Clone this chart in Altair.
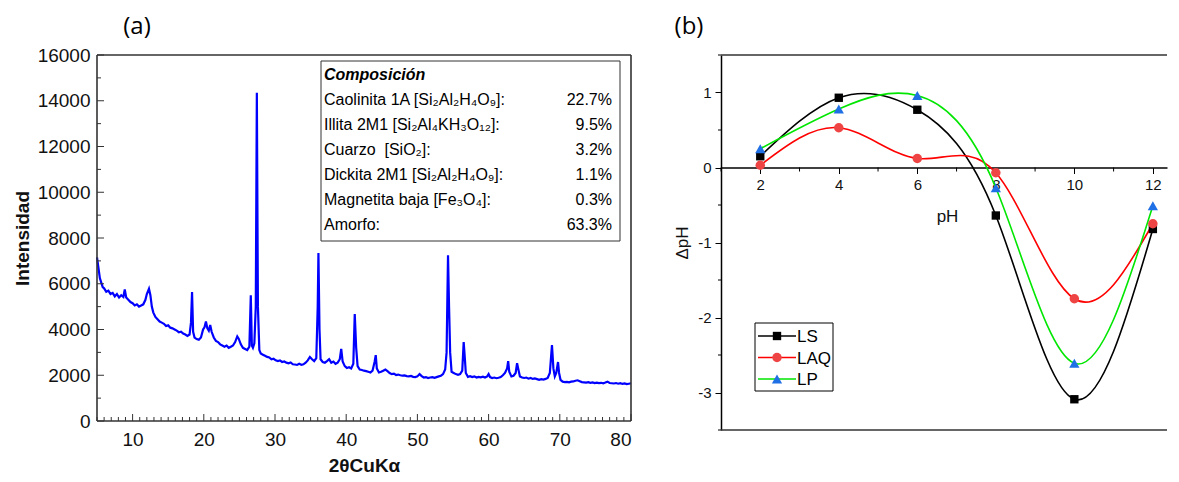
import altair as alt
import pandas as pd

# ---------------- panel (a): XRD pattern ----------------
two_theta = [
    5.0, 5.2, 5.4, 5.6, 5.8, 6.0, 6.3, 6.6, 6.9, 7.2, 7.5, 7.8, 8.1, 8.4, 8.7, 8.9, 9.1, 9.4, 9.7, 10.0,
    10.3, 10.6, 10.9, 11.2, 11.5, 11.8, 12.0, 12.3, 12.5, 12.7, 12.9, 13.2, 13.5, 13.8, 14.1, 14.4, 14.7, 15.0,
    15.3, 15.6, 15.9, 16.2, 16.5, 16.8, 17.1, 17.4, 17.7, 18.0, 18.2, 18.35, 18.5, 18.7, 19.0, 19.3, 19.6,
    19.9, 20.1, 20.3, 20.5, 20.7, 20.9, 21.1, 21.4, 21.7, 22.0, 22.3, 22.6, 22.9, 23.2, 23.5, 23.8, 24.1,
    24.4, 24.7, 24.9, 25.2, 25.5, 25.8, 26.1, 26.4, 26.6, 26.75, 26.9, 27.1, 27.3, 27.45, 27.6, 27.8, 28.0,
    28.3, 28.6, 28.9, 29.2, 29.5, 29.8, 30.1, 30.4, 30.7, 31.0, 31.3, 31.6, 31.9, 32.2, 32.5, 32.8, 33.1,
    33.4, 33.7, 34.0, 34.3, 34.6, 34.9, 35.2, 35.5, 35.8, 36.0, 36.1, 36.25, 36.4, 36.7, 37.0, 37.3, 37.6,
    37.9, 38.2, 38.5, 38.8, 39.1, 39.3, 39.5, 39.8, 40.1, 40.4, 40.7, 41.0, 41.2, 41.4, 41.6, 41.9, 42.2,
    42.5, 42.8, 43.1, 43.4, 43.7, 44.0, 44.15, 44.3, 44.6, 44.9, 45.2, 45.5, 45.8, 46.1, 46.4, 46.7, 47.0,
    47.3, 47.6, 47.9, 48.2, 48.5, 48.8, 49.1, 49.4, 49.7, 50.0, 50.3, 50.6, 50.9, 51.2, 51.5, 51.8, 52.1,
    52.4, 52.7, 53.0, 53.3, 53.6, 53.9, 54.1, 54.3, 54.45, 54.6, 54.8, 55.1, 55.4, 55.7, 56.0, 56.3, 56.5,
    56.65, 56.8, 57.1, 57.4, 57.7, 58.0, 58.3, 58.6, 58.9, 59.2, 59.5, 59.8, 60.0, 60.2, 60.5, 60.8, 61.1,
    61.4, 61.7, 62.0, 62.3, 62.6, 62.75, 62.9, 63.2, 63.5, 63.8, 64.0, 64.15, 64.4, 64.7, 65.0, 65.3, 65.6,
    65.9, 66.2, 66.5, 66.8, 67.1, 67.4, 67.7, 68.0, 68.3, 68.6, 68.9, 69.1, 69.3, 69.5, 69.75, 69.9, 70.1,
    70.4, 70.7, 71.0, 71.3, 71.6, 71.9, 72.2, 72.5, 72.8, 73.1, 73.4, 73.7, 74.0, 74.3, 74.6, 74.9, 75.2,
    75.5, 75.8, 76.1, 76.4, 76.7, 77.0, 77.3, 77.6, 77.9, 78.2, 78.5, 78.8, 79.1, 79.4, 79.7, 80.0,
]
intensity = [
    7150, 6700, 6250, 6050, 5850, 5800, 5650, 5700, 5550, 5600, 5450, 5550, 5400, 5500, 5420, 5750, 5400, 5300, 5200, 5150,
    5050, 5100, 5000, 5050, 5100, 5300, 5550, 5780, 5500, 5000, 4750, 4550, 4450, 4350, 4300, 4250, 4150, 4180,
    4080, 4050, 4000, 3950, 3880, 3900, 3820, 3780, 3720, 3780, 4300, 5640, 3900, 3650, 3580, 3550, 3650,
    4000, 4100, 4350, 4050, 3950, 4200, 3900, 3650, 3500, 3450, 3350, 3300, 3250, 3300, 3200, 3250, 3300,
    3450, 3700, 3600, 3350, 3200, 3150, 3100, 3250, 5500, 3300, 3200, 3400, 5000, 14350, 5000, 3100, 2950,
    2900, 2850, 2800, 2780, 2700, 2720, 2650, 2620, 2650, 2580, 2600, 2550, 2520, 2560, 2480, 2470, 2450,
    2500, 2460, 2480, 2550, 2650, 2800, 2700, 2620, 2750, 5000, 7340, 4000, 2700, 2580, 2550, 2620, 2700,
    2550, 2600, 2500, 2550, 2700, 3150, 2600, 2400, 2320, 2350, 2300, 2500, 4680, 3200, 2400, 2250, 2230,
    2200, 2180, 2150, 2120, 2200, 2600, 2880, 2300, 2120, 2150, 2200, 2250, 2180, 2100, 2050, 2070, 2010,
    2030, 2000, 1980, 1990, 1960, 1950, 1970, 1930, 1920, 1950, 2050, 1960, 1900, 1920, 1880, 1900, 1920,
    1890, 1920, 1950, 1980, 2050, 2250, 3000, 7250, 4940, 3000, 2150, 2100, 2050, 2020, 2050, 2200, 3450,
    2800, 2100, 1930, 1960, 1920, 1950, 1900, 1930, 1910, 1940, 1900, 1950, 2050, 1920, 1880, 1900, 1870,
    1890, 1920, 2000, 2100, 2300, 2620, 2150, 1950, 1980, 2100, 2530, 2300, 1950, 1900, 1880, 1900, 1850,
    1880, 1840, 1860, 1830, 1800, 1830, 1810, 1840, 1880, 2100, 3320, 2300, 1950, 2100, 2580, 2100, 1800,
    1720, 1700, 1710, 1690, 1720, 1730, 1760, 1780, 1740, 1700, 1690, 1680, 1700, 1670, 1690, 1660, 1680,
    1660, 1670, 1650, 1680, 1720, 1660, 1650, 1640, 1660, 1630, 1650, 1620, 1640, 1610, 1630, 1650,
]

comp_title = "Composición"
comp_labels = [
    "Caolinita 1A [Si₂Al₂H₄O₉]:",
    "Illita 2M1 [Si₂Al₄KH₃O₁₂]:",
    "Cuarzo\u00a0 [SiO₂]:",
    "Dickita 2M1 [Si₂Al₂H₄O₉]:",
    "Magnetita baja [Fe₃O₄]:",
    "Amorfo:",
]
comp_values = ["22.7%", "9.5%", "3.2%", "1.1%", "0.3%", "63.3%"]

x_labels_a = [10, 20, 30, 40, 50, 60, 70, 80]
y_labels_a = [0, 2000, 4000, 6000, 8000, 10000, 12000, 14000, 16000]
x_minor_a = [v for v in range(5, 81) if v % 10 != 0]
y_minor_a = [v for v in range(1000, 16000, 2000)]

# ---------------- panel (b): delta pH ----------------
ph = [2, 4, 6, 8, 10, 12]
ls_vals = [0.15, 0.93, 0.77, -0.64, -3.09, -0.82]
laq_vals = [0.03, 0.53, 0.12, -0.07, -1.75, -0.75]
lp_vals = [0.25, 0.78, 0.96, -0.27, -2.61, -0.51]
series_names = ["LS", "LAQ", "LP"]
series_values = [ls_vals, laq_vals, lp_vals]
line_colors = ["#000000", "#FF0000", "#00E600"]
marker_colors = ["#000000", "#EE4444", "#1F6FE5"]
marker_shapes = ["square", "circle", "triangle-up"]
marker_sizes = [70, 90, 105]

x_labels_b = [2, 4, 6, 8, 10, 12]
x_minor_b = [1, 3, 5, 7, 9, 11]
y_labels_b = [-3, -2, -1, 0, 1]
y_minor_b = [-3.5, -2.5, -1.5, -0.5, 0.5, 1.5]

panel_labels = ["(a)", "(b)"]

FONT = "Liberation Sans"
FRAME = "#333333"
one = pd.DataFrame({"k": [0]})

# ================= panel (a) =================
W_A, H_A = 534, 366
xa = alt.X("tt:Q", scale=alt.Scale(domain=[5, 80], nice=False, zero=False),
           axis=alt.Axis(title="2θCuKα", values=x_labels_a, format="d", tickSize=0, domain=False, grid=False,
                         labelFontSize=19, labelPadding=9, labelColor="#111", labelFont=FONT,
                         titleFont=FONT, titleFontSize=19, titleFontWeight="bold", titleColor="#111",
                         titlePadding=7))
ya = alt.Y("I:Q", scale=alt.Scale(domain=[0, 16000], nice=False),
           axis=alt.Axis(title="Intensidad", values=y_labels_a, format="d", tickSize=0, domain=False, grid=False,
                         labelFontSize=19, labelPadding=7, labelColor="#111", labelFont=FONT,
                         titleFont=FONT, titleFontSize=19, titleFontWeight="bold", titleColor="#111",
                         titlePadding=5))

df_xrd = pd.DataFrame({"tt": two_theta, "I": intensity})
layers_a = []
layers_a.append(alt.Chart(df_xrd).mark_line(color="#0000FF", strokeWidth=2.2).encode(x=xa, y=ya))
# inward ticks
layers_a.append(alt.Chart(pd.DataFrame({"I": y_labels_a})).mark_rule(color=FRAME, strokeWidth=1)
                .encode(y=ya, x=alt.value(0), x2=alt.value(7)))
layers_a.append(alt.Chart(pd.DataFrame({"I": y_minor_a})).mark_rule(color=FRAME, strokeWidth=1)
                .encode(y=ya, x=alt.value(0), x2=alt.value(4)))
layers_a.append(alt.Chart(pd.DataFrame({"tt": x_labels_a})).mark_rule(color=FRAME, strokeWidth=1)
                .encode(x=xa, y=alt.value(H_A), y2=alt.value(H_A - 7)))
layers_a.append(alt.Chart(pd.DataFrame({"tt": x_minor_a})).mark_rule(color=FRAME, strokeWidth=1)
                .encode(x=xa, y=alt.value(H_A), y2=alt.value(H_A - 4)))
# frame
for enc in [dict(x=alt.value(0), x2=alt.value(W_A), y=alt.value(0)),
            dict(x=alt.value(0), x2=alt.value(W_A), y=alt.value(H_A)),
            dict(y=alt.value(0), y2=alt.value(H_A), x=alt.value(0)),
            dict(y=alt.value(0), y2=alt.value(H_A), x=alt.value(W_A))]:
    layers_a.append(alt.Chart(one).mark_rule(color=FRAME, strokeWidth=1.6).encode(**enc))
# composition box
layers_a.append(alt.Chart(one).mark_rect(fill="white", stroke=FRAME, strokeWidth=1)
                .encode(x=alt.value(224), x2=alt.value(523), y=alt.value(6), y2=alt.value(186)))
layers_a.append(alt.Chart(one).mark_text(text=comp_title, align="left", baseline="middle", fontSize=16,
                                         fontWeight="bold", fontStyle="italic", font=FONT, color="#000")
                .encode(x=alt.value(227), y=alt.value(20)))
for i, (lab, val) in enumerate(zip(comp_labels, comp_values)):
    yy = 45 + 25 * i
    layers_a.append(alt.Chart(one).mark_text(text=lab, align="left", baseline="middle", fontSize=16,
                                             font=FONT, color="#000")
                    .encode(x=alt.value(227), y=alt.value(yy)))
    layers_a.append(alt.Chart(one).mark_text(text=val, align="right", baseline="middle", fontSize=16,
                                             font=FONT, color="#000")
                    .encode(x=alt.value(515), y=alt.value(yy)))
# panel label
layers_a.append(alt.Chart(one).mark_text(text=panel_labels[0], align="center", baseline="middle", fontSize=24,
                                         font="Open Sans", color="#000")
                .encode(x=alt.value(40), y=alt.value(-28)))

chart_a = alt.layer(*layers_a).properties(width=W_A, height=H_A)

# ================= panel (b) =================
W_B, H_B = 446, 375
Y_DOM_B = [-3.5, 1.5]
X_DOM_B = [1, 12.36]
y0px = H_B * (Y_DOM_B[1] - 0) / (Y_DOM_B[1] - Y_DOM_B[0])

xb = alt.X("pH:Q", scale=alt.Scale(domain=X_DOM_B, nice=False, zero=False),
           axis=alt.Axis(title="pH", values=x_labels_b, orient="bottom", offset=-(H_B - y0px),
                         tickSize=6, tickColor="#000", domainColor="#000", domainWidth=1.5, grid=False,
                         labelFontSize=15, labelPadding=4, labelFont=FONT, labelColor="#111",
                         titleFont=FONT, titleFontSize=17, titleFontWeight="normal", titleColor="#111",
                         titleX=226, titleY=49, titleBaseline="middle", titleAlign="center"))
yb = alt.Y("d:Q", scale=alt.Scale(domain=Y_DOM_B, nice=False, zero=False),
           axis=alt.Axis(title="ΔpH", values=y_labels_b, tickSize=6, tickColor="#000", domainColor="#000",
                         domainWidth=1.5, grid=False, labelExpr="'' + datum.value",
                         labelFontSize=15, labelPadding=4, labelFont=FONT, labelColor="#111",
                         titleFont=FONT, titleFontSize=17, titleFontWeight="normal", titleColor="#111",
                         titlePadding=6))

layers_b = []
layers_b.append(alt.Chart(pd.DataFrame({"d": y_minor_b})).mark_rule(color="#000", strokeWidth=1)
                .encode(y=yb, x=alt.value(-3), x2=alt.value(0)))
layers_b.append(alt.Chart(pd.DataFrame({"pH": x_minor_b})).mark_rule(color="#000", strokeWidth=1)
                .encode(x=xb, y=alt.value(y0px), y2=alt.value(y0px + 4)))
for enc in [dict(x=alt.value(0), x2=alt.value(W_B), y=alt.value(0)),
            dict(x=alt.value(0), x2=alt.value(W_B), y=alt.value(H_B))]:
    layers_b.append(alt.Chart(one).mark_rule(color=FRAME, strokeWidth=1.6).encode(**enc))

for name, vals, lc in zip(series_names, series_values, line_colors):
    df = pd.DataFrame({"pH": ph, "d": vals})
    layers_b.append(alt.Chart(df).mark_line(color=lc, strokeWidth=1.6, interpolate="natural")
                    .encode(x=xb, y=yb))
for name, vals, mc, ms, sz in zip(series_names, series_values, marker_colors, marker_shapes, marker_sizes):
    df = pd.DataFrame({"pH": ph, "d": vals})
    layers_b.append(alt.Chart(df).mark_point(shape=ms, filled=True, size=sz, color=mc, opacity=1)
                    .encode(x=xb, y=yb))

# legend box
layers_b.append(alt.Chart(one).mark_rect(fill="white", stroke="#000", strokeWidth=1)
                .encode(x=alt.value(34), x2=alt.value(112), y=alt.value(268), y2=alt.value(336)))
for i, (name, lc, mc, ms, sz) in enumerate(zip(series_names, line_colors, marker_colors, marker_shapes, marker_sizes)):
    yy = 281 + 21.5 * i
    layers_b.append(alt.Chart(one).mark_rule(color=lc, strokeWidth=1.6)
                    .encode(x=alt.value(37), x2=alt.value(75), y=alt.value(yy)))
    layers_b.append(alt.Chart(one).mark_point(shape=ms, filled=True, size=sz, color=mc, opacity=1)
                    .encode(x=alt.value(56), y=alt.value(yy)))
    layers_b.append(alt.Chart(one).mark_text(text=name, align="left", baseline="middle", fontSize=17,
                                             font=FONT, color="#000")
                    .encode(x=alt.value(76), y=alt.value(yy + 1)))
# panel label
layers_b.append(alt.Chart(one).mark_text(text=panel_labels[1], align="center", baseline="middle", fontSize=24,
                                         font="Open Sans", color="#000")
                .encode(x=alt.value(-32), y=alt.value(-28)))

chart_b = alt.layer(*layers_b).properties(width=W_B, height=H_B)

chart = alt.hconcat(chart_a, chart_b, spacing=90, bounds="flush").properties(
    padding={"left": 5, "right": 0, "top": 7, "bottom": 5}
).configure_view(strokeWidth=0)

chart.save("out.html", embed_options={"renderer": "svg", "actions": False})
